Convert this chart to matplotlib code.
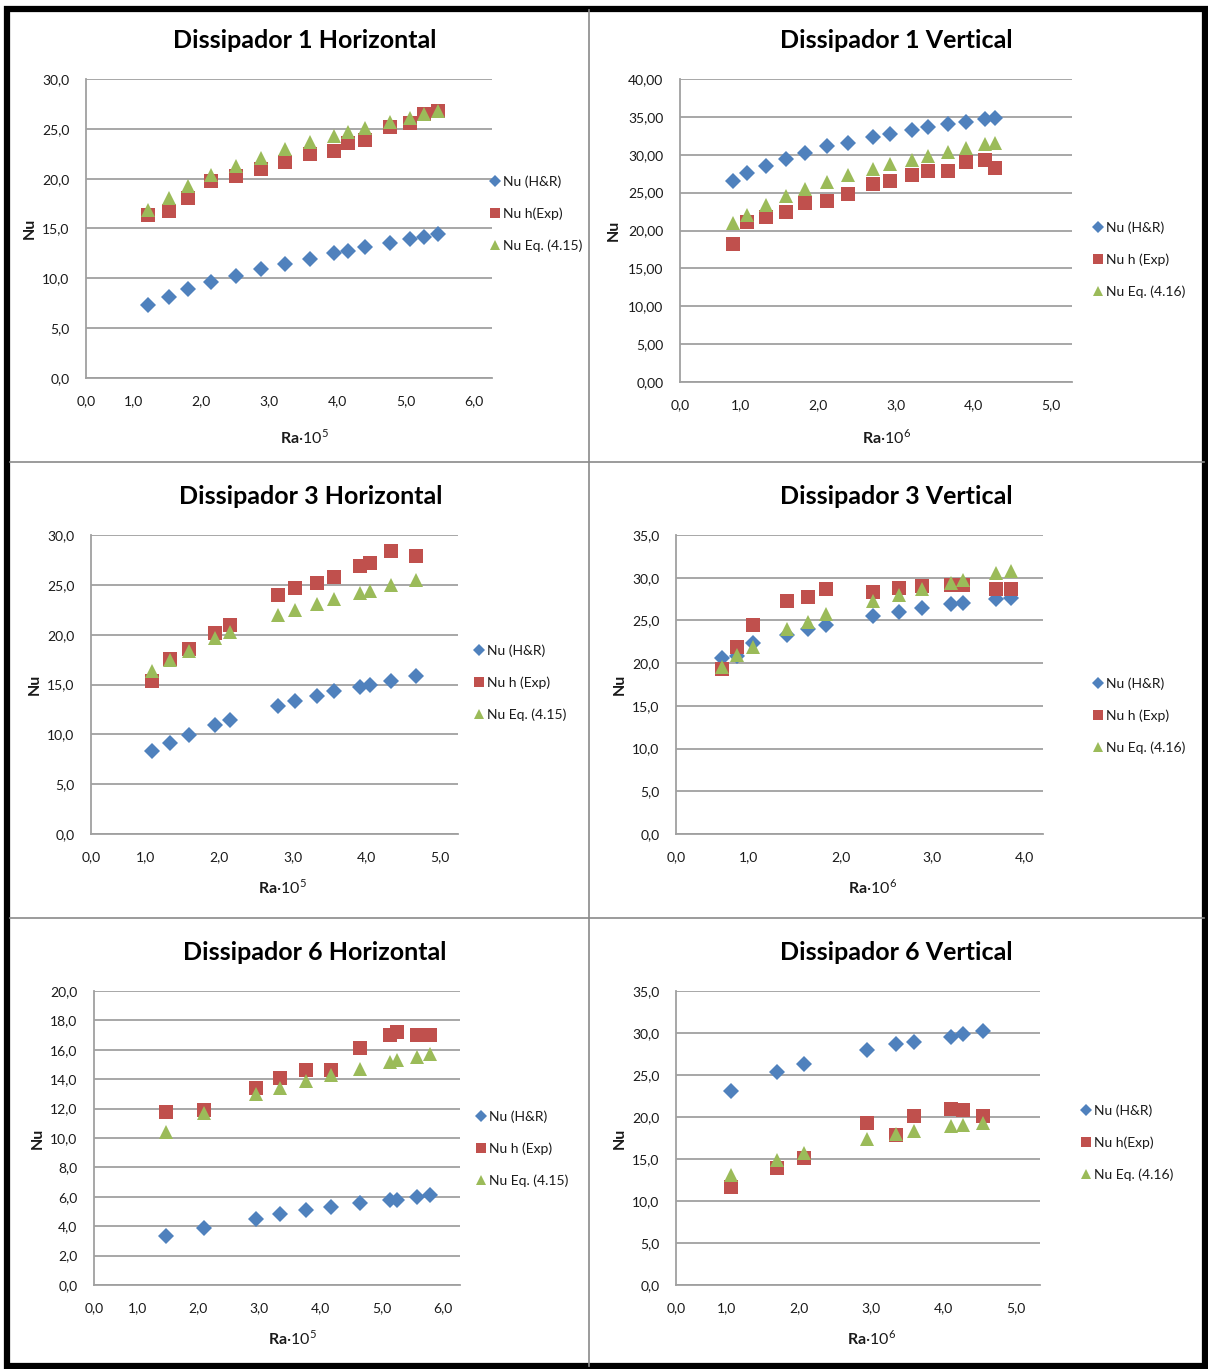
import matplotlib.pyplot as plt
from matplotlib.lines import Line2D
from matplotlib.patches import Rectangle

plt.rcParams['font.family'] = ['Lato', 'DejaVu Sans']
plt.rcParams['mathtext.fontset'] = 'custom'
plt.rcParams['mathtext.rm'] = 'Lato'
plt.rcParams['mathtext.bf'] = 'Lato:bold'

W, H = 1208, 1369
BLUE = '#4f81bd'
RED = '#c0504d'
GREEN = '#9bbb59'
GRID = '#a0a0a0'
TEXT = '#1a1a1a'

# Dissipador 1 Horizontal (Ra x 10^5)
ra_d1h = [1.22, 1.53, 1.81, 2.15, 2.51, 2.87, 3.23, 3.60, 3.94, 4.15, 4.40, 4.77, 5.06, 5.27, 5.47]
hr_d1h = [7.3, 8.1, 8.9, 9.6, 10.2, 10.9, 11.4, 11.9, 12.5, 12.7, 13.1, 13.5, 13.9, 14.1, 14.4]
exp_d1h = [16.4, 16.8, 18.1, 19.8, 20.3, 21.0, 21.7, 22.5, 22.8, 23.6, 23.9, 25.2, 25.6, 26.5, 26.8]
eq_d1h = [16.9, 18.1, 19.3, 20.4, 21.3, 22.1, 23.0, 23.7, 24.3, 24.7, 25.1, 25.7, 26.1, 26.5, 26.8]

# Dissipador 1 Vertical (Ra x 10^6)
ra_d1v = [0.91, 1.09, 1.33, 1.59, 1.83, 2.12, 2.39, 2.71, 2.93, 3.21, 3.42, 3.67, 3.91, 4.15, 4.28]
hr_d1v = [26.6, 27.6, 28.5, 29.4, 30.2, 31.1, 31.6, 32.3, 32.8, 33.3, 33.6, 34.0, 34.3, 34.7, 34.8]
exp_d1v = [18.2, 21.1, 21.8, 22.4, 23.6, 23.9, 24.8, 26.1, 26.6, 27.3, 27.8, 27.8, 29.0, 29.3, 28.3]
eq_d1v = [21.0, 22.0, 23.4, 24.6, 25.5, 26.4, 27.3, 28.1, 28.8, 29.3, 29.9, 30.3, 30.9, 31.4, 31.5]

# Dissipador 3 Horizontal (Ra x 10^5)
ra_d3h = [1.10, 1.34, 1.59, 1.95, 2.15, 2.81, 3.04, 3.33, 3.56, 3.91, 4.05, 4.33, 4.68]
hr_d3h = [8.3, 9.1, 9.9, 10.9, 11.4, 12.8, 13.3, 13.8, 14.3, 14.7, 15.0, 15.4, 15.9]
exp_d3h = [15.4, 17.6, 18.6, 20.2, 21.0, 24.0, 24.7, 25.2, 25.8, 26.9, 27.2, 28.4, 27.9]
eq_d3h = [16.4, 17.5, 18.4, 19.7, 20.3, 22.0, 22.5, 23.1, 23.6, 24.2, 24.4, 25.0, 25.5]

# Dissipador 3 Vertical (Ra x 10^6)
ra_d3v = [0.71, 0.87, 1.04, 1.42, 1.64, 1.84, 2.35, 2.64, 2.89, 3.20, 3.33, 3.69, 3.86]
hr_d3v = [20.6, 20.8, 22.3, 23.3, 24.0, 24.5, 25.5, 26.0, 26.5, 26.9, 27.0, 27.5, 27.6]
exp_d3v = [19.3, 21.9, 24.5, 27.3, 27.8, 28.7, 28.3, 28.8, 29.0, 29.1, 29.1, 28.7, 28.7]
eq_d3v = [19.5, 20.9, 21.9, 24.0, 24.8, 25.7, 27.3, 28.0, 28.7, 29.4, 29.7, 30.5, 30.8]

# Dissipador 6 Horizontal (Ra x 10^5)
ra_d6h = [1.47, 2.10, 2.95, 3.34, 3.76, 4.17, 4.64, 5.13, 5.25, 5.58, 5.79]
hr_d6h = [3.3, 3.9, 4.5, 4.8, 5.1, 5.3, 5.6, 5.8, 5.8, 6.0, 6.1]
exp_d6h = [11.8, 11.9, 13.4, 14.1, 14.6, 14.6, 16.1, 17.0, 17.2, 17.0, 17.0]
eq_d6h = [10.4, 11.7, 13.0, 13.4, 13.9, 14.3, 14.7, 15.2, 15.3, 15.5, 15.7]

# Dissipador 6 Vertical (Ra x 10^6)
ra_d6v = [1.07, 1.70, 2.07, 2.95, 3.35, 3.59, 4.10, 4.27, 4.54]
hr_d6v = [23.1, 25.4, 26.3, 28.0, 28.7, 28.9, 29.5, 29.9, 30.2]
exp_d6v = [11.7, 13.9, 15.1, 19.3, 17.9, 20.1, 20.9, 20.8, 20.1]
eq_d6v = [13.1, 14.9, 15.7, 17.4, 18.0, 18.3, 18.9, 19.1, 19.3]

titles = ['Dissipador 1 Horizontal', 'Dissipador 1 Vertical',
          'Dissipador 3 Horizontal', 'Dissipador 3 Vertical',
          'Dissipador 6 Horizontal', 'Dissipador 6 Vertical']
legend_labels = [
    ['Nu (H&R)', 'Nu h(Exp)', 'Nu Eq. (4.15)'],
    ['Nu (H&R)', 'Nu h (Exp)', 'Nu Eq. (4.16)'],
    ['Nu (H&R)', 'Nu h (Exp)', 'Nu Eq. (4.15)'],
    ['Nu (H&R)', 'Nu h (Exp)', 'Nu Eq. (4.16)'],
    ['Nu (H&R)', 'Nu h (Exp)', 'Nu Eq. (4.15)'],
    ['Nu (H&R)', 'Nu h(Exp)', 'Nu Eq. (4.16)'],
]
ra_exponent = [5, 6, 5, 6, 5, 6]

series = [
    (ra_d1h, hr_d1h, exp_d1h, eq_d1h),
    (ra_d1v, hr_d1v, exp_d1v, eq_d1v),
    (ra_d3h, hr_d3h, exp_d3h, eq_d3h),
    (ra_d3v, hr_d3v, exp_d3v, eq_d3v),
    (ra_d6h, hr_d6h, exp_d6h, eq_d6h),
    (ra_d6v, hr_d6v, exp_d6v, eq_d6v),
]

# page layout in pixels: plot box, x range, last x tick, y max, y step, y decimals,
# title centre, "Nu" x, x-label centre, legend left x, legend first-row y
layout = [
    dict(box=(86, 79, 492, 378), xlim=(0.311, 6.264), xmax=6, ymax=30, ystep=5, dec=1,
         tx=305, ty=40, nux=30, xlx=305, xly=437, lgx=491, lgy=183),
    dict(box=(680, 79, 1072, 382), xlim=(0.228, 5.27), xmax=5, ymax=40, ystep=5, dec=2,
         tx=896, ty=40, nux=614, xlx=887, xly=437, lgx=1094, lgy=229),
    dict(box=(91, 535, 458, 834), xlim=(0.268, 5.244), xmax=5, ymax=30, ystep=5, dec=1,
         tx=311, ty=496, nux=35, xlx=283, xly=887, lgx=475, lgy=652),
    dict(box=(676, 535, 1043, 834), xlim=(0.204, 4.207), xmax=4, ymax=35, ystep=5, dec=1,
         tx=896, ty=496, nux=620, xlx=873, xly=887, lgx=1094, lgy=685),
    dict(box=(94, 991, 460, 1285), xlim=(0.297, 6.278), xmax=6, ymax=20, ystep=2, dec=1,
         tx=315, ty=952, nux=38, xlx=293, xly=1338, lgx=477, lgy=1118),
    dict(box=(676, 991, 1040, 1285), xlim=(0.310, 5.331), xmax=5, ymax=35, ystep=5, dec=1,
         tx=896, ty=952, nux=620, xlx=872, xly=1338, lgx=1082, lgy=1112),
]

fig = plt.figure(figsize=(W / 100, H / 100), dpi=100)


def fx(px):
    return px / W


def fy(py):
    return 1 - py / H


def comma(v, dec):
    return f'{v:.{dec}f}'.replace('.', ',')


for i, lay in enumerate(layout):
    ra, hr, ex, eq = series[i]
    x0, y0, x1, y1 = lay['box']
    ax = fig.add_axes([fx(x0), fy(y1), (x1 - x0) / W, (y1 - y0) / H])

    ax.plot(ra, hr, 'D', color=BLUE, ms=8.5, mew=0, label=legend_labels[i][0], zorder=3)
    ax.plot(ra, ex, 's', color=RED, ms=9.5, mew=0, label=legend_labels[i][1], zorder=3)
    ax.plot(ra, eq, '^', color=GREEN, ms=10.5, mew=0, label=legend_labels[i][2], zorder=3)

    ax.set_xlim(*lay['xlim'])
    ax.set_ylim(0, lay['ymax'])

    # the first x label sits on the left edge of the plot area
    xt = [lay['xlim'][0]] + list(range(1, lay['xmax'] + 1))
    ax.set_xticks(xt)
    ax.set_xticklabels(['0,0'] + [comma(v, 1) for v in range(1, lay['xmax'] + 1)])
    yt = list(range(0, lay['ymax'] + 1, lay['ystep']))
    ax.set_yticks(yt)
    ax.set_yticklabels([comma(v, lay['dec']) for v in yt])

    ax.tick_params(length=0, labelsize=10, labelcolor=TEXT)
    ax.tick_params(axis='x', pad=12)
    ax.tick_params(axis='y', pad=12)
    ax.yaxis.grid(True, color=GRID, lw=1.3)
    ax.set_axisbelow(True)
    for side in ['top', 'right']:
        ax.spines[side].set_visible(False)
    for side in ['left', 'bottom']:
        ax.spines[side].set_color(GRID)
        ax.spines[side].set_linewidth(1.3)

    fig.text(fx(lay['tx']), fy(lay['ty']), titles[i], ha='center', va='center',
             fontsize=18, fontweight='bold', color='black')
    fig.text(fx(lay['nux']), fy((y0 + y1) / 2), 'Nu', rotation=90, ha='center', va='center',
             fontsize=11.5, fontweight='bold', color=TEXT)
    fig.text(fx(lay['xlx']), fy(lay['xly']), r'$\mathbf{Ra}$' + '·10' + rf'$^{{{ra_exponent[i]}}}$',
             ha='center', va='center', fontsize=11.5, color=TEXT)

    ax.legend(loc='upper left', bbox_to_anchor=(fx(lay['lgx']), fy(lay['lgy'] - 8)),
              bbox_transform=fig.transFigure, frameon=False, fontsize=10,
              borderpad=0, borderaxespad=0, handlelength=0.6, handletextpad=0.25,
              labelspacing=1.42, markerscale=0.75, labelcolor=TEXT)

# panel dividers and outer frame
for xs, ys in [((589, 589), (10, 1366)), ((10, 1204), (462, 462)), ((10, 1204), (918, 918))]:
    fig.add_artist(Line2D([fx(v) for v in xs], [fy(v) for v in ys], color='#8a8a8a', lw=1.2))
fig.add_artist(Rectangle((fx(7), fy(1366)), (1198) / W, (1366 - 8.5) / H,
                         fill=False, ec='black', lw=4.5, transform=fig.transFigure))

fig.savefig('out.png', dpi=100)
